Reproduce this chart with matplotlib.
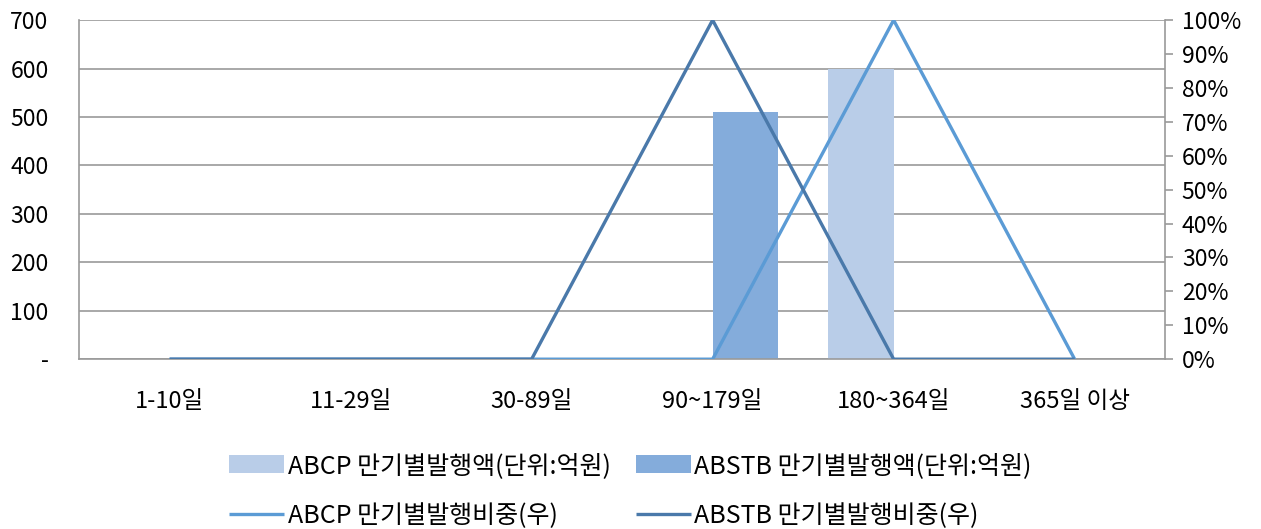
import matplotlib.pyplot as plt
import numpy as np
from matplotlib.ticker import FixedLocator, FixedFormatter, PercentFormatter

plt.rcParams["font.family"] = ["Noto Sans CJK KR", "DejaVu Sans"]

categories = ["1-10일", "11-29일", "30-89일", "90~179일", "180~364일", "365일 이상"]
abcp_amount = [0, 0, 0, 0, 600, 0]
abstb_amount = [0, 0, 0, 510, 0, 0]
abcp_ratio = [0, 0, 0, 0, 100, 0]
abstb_ratio = [0, 0, 0, 100, 0, 0]
left_ticks = [0, 100, 200, 300, 400, 500, 600, 700]
left_labels = ["-", "100", "200", "300", "400", "500", "600", "700"]

labels = ["ABCP 만기별발행액(단위:억원)", "ABSTB 만기별발행액(단위:억원)",
          "ABCP 만기별발행비중(우)", "ABSTB 만기별발행비중(우)"]

c_abcp_bar = "#B9CDE8"
c_abstb_bar = "#84ACDB"
c_abcp_line = "#5B9BD5"
c_abstb_line = "#4A79AA"
grid_c = "#9A9A9A"
fs = 16.5

fig = plt.figure(figsize=(12.61, 5.29), dpi=100)
ax = fig.add_axes([0.0627, 0.321, 0.8613, 0.641])
ax2 = ax.twinx()

x = np.arange(len(categories))
w = 0.36
b1 = ax.bar(x - w / 2, abcp_amount, w, color=c_abcp_bar, zorder=2)
b2 = ax.bar(x + w / 2, abstb_amount, w, color=c_abstb_bar, zorder=2)

l1, = ax2.plot(x, abcp_ratio, color=c_abcp_line, lw=2.4, solid_capstyle="butt")
l2, = ax2.plot(x, abstb_ratio, color=c_abstb_line, lw=2.4, solid_capstyle="butt")

ax.set_xlim(-0.5, len(categories) - 0.5)
ax.set_ylim(0, 700)
ax.yaxis.set_major_locator(FixedLocator(left_ticks))
ax.yaxis.set_major_formatter(FixedFormatter(left_labels))
ax.grid(axis="y", color=grid_c, lw=1.2, zorder=0)
ax.set_axisbelow(True)
ax.set_xticks(x)
ax.set_xticklabels(categories, fontsize=17)
ax.tick_params(axis="x", length=0, pad=22)
ax.tick_params(axis="y", length=0, labelsize=fs, pad=22)

ax2.set_ylim(0, 100)
ax2.set_yticks(range(0, 101, 10))
ax2.yaxis.set_major_formatter(PercentFormatter(decimals=0))
ax2.tick_params(axis="y", direction="out", length=6, width=1.2, color=grid_c,
                labelsize=fs, pad=6)

for a in (ax, ax2):
    for s in a.spines.values():
        s.set_visible(False)
ax.spines["left"].set_visible(True)
ax.spines["left"].set_color(grid_c)
ax.spines["left"].set_linewidth(1.2)
ax.spines["bottom"].set_visible(True)
ax.spines["bottom"].set_color(grid_c)
ax.spines["bottom"].set_linewidth(1.2)
ax2.spines["right"].set_visible(True)
ax2.spines["right"].set_color(grid_c)
ax2.spines["right"].set_linewidth(1.2)

fig.legend([b1, l1, b2, l2], [labels[0], labels[2], labels[1], labels[3]],
           ncol=2, loc="center", bbox_to_anchor=(0.5, 0.072), frameon=False,
           fontsize=18, handlelength=2.2, handleheight=0.75, handletextpad=0.15,
           columnspacing=1.0, labelspacing=0.98)

fig.savefig("out.png", dpi=100)
